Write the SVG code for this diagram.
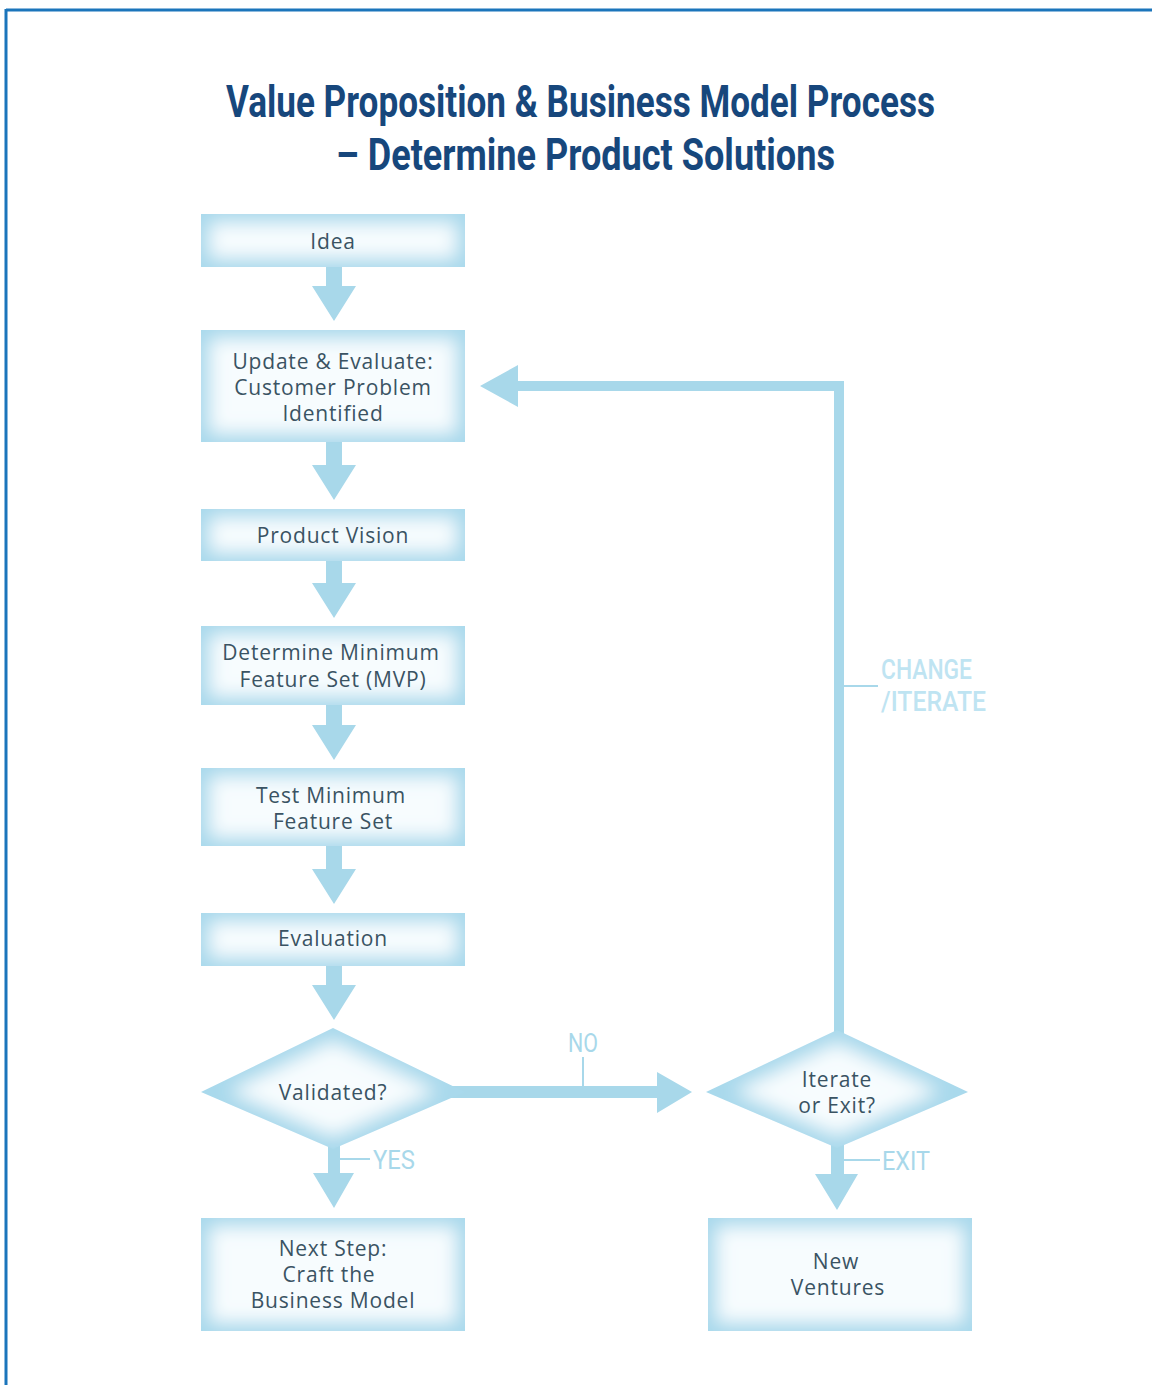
<svg xmlns="http://www.w3.org/2000/svg" width="1152" height="1385" viewBox="0 0 1152 1385">
<defs>
<filter id="inner" x="-5%" y="-10%" width="110%" height="120%">
<feMorphology in="SourceAlpha" operator="erode" radius="9" result="e"/>
<feGaussianBlur in="e" stdDeviation="9" result="b"/>
<feFlood flood-color="#f7fcfe"/>
<feComposite in2="b" operator="in" result="w"/>
<feComposite in="w" in2="SourceAlpha" operator="in" result="wc"/>
<feMerge><feMergeNode in="SourceGraphic"/><feMergeNode in="wc"/></feMerge>
</filter>
<style>
.box{fill:#a9d9ec;filter:url(#inner)}
.lbl{font-family:"Open Sans","Liberation Sans",sans-serif;font-size:21px;fill:#3a5363;text-anchor:middle;letter-spacing:0.8px}
.title{font-family:"Roboto","Liberation Sans",sans-serif;font-weight:bold;font-size:44px;fill:#17477c}
.arr{fill:#a8d8ea}
.tick{stroke:#a8d8ea;stroke-width:2;fill:none}
.elbl{font-family:"Roboto","Liberation Sans",sans-serif;font-size:26px;fill:#a8d8ea}
.clbl{font-family:"Roboto","Liberation Sans",sans-serif;font-size:27px;font-weight:500;fill:#bfe4f2}
</style>
</defs>
<rect x="0" y="0" width="1152" height="1385" fill="#ffffff"/>
<g id="frame">
<line x1="6" y1="10" x2="1152" y2="10" stroke="#1b75bb" stroke-width="3"/>
<line x1="6" y1="9" x2="6" y2="1385" stroke="#1b75bb" stroke-width="3"/>
</g>
<g id="title">
<text class="title" x="226" y="117" textLength="709" lengthAdjust="spacingAndGlyphs">Value Proposition &amp; Business Model Process</text>
<text class="title" x="336" y="170" textLength="499" lengthAdjust="spacingAndGlyphs">– Determine Product Solutions</text>
</g>
<g id="connectors">
<polygon class="arr" points="326,267 342,267 342,286 356,286 334,321 312,286 326,286"/>
<polygon class="arr" points="326,442 342,442 342,465 356,465 334,500 312,465 326,465"/>
<polygon class="arr" points="326,561 342,561 342,583 356,583 334,618 312,583 326,583"/>
<polygon class="arr" points="326,705 342,705 342,725 356,725 334,760 312,725 326,725"/>
<polygon class="arr" points="326,846 342,846 342,869 356,869 334,904 312,869 326,869"/>
<polygon class="arr" points="326,966 342,966 342,985 356,985 334,1020 312,985 326,985"/>
<polygon class="arr" points="328,1145 340,1145 340,1173 354,1173 334,1208 313,1173 328,1173"/>
<polygon class="arr" points="831,1145 844,1145 844,1174 858,1174 837,1210 815,1174 831,1174"/>
<polygon class="arr" points="450,1086 657,1086 657,1072 692,1092 657,1113 657,1098 450,1098"/>
<polygon class="arr" points="844,1034 834,1034 834,391 518,391 518,407 480,386 518,365 518,381 844,381"/>
<line class="tick" x1="340" y1="1159" x2="370" y2="1159"/>
<text class="elbl" x="373" y="1169" textLength="42" lengthAdjust="spacingAndGlyphs">YES</text>
<line class="tick" x1="844" y1="1160" x2="880" y2="1160"/>
<text class="elbl" x="882" y="1170" textLength="48" lengthAdjust="spacingAndGlyphs">EXIT</text>
<line class="tick" x1="583" y1="1057" x2="583" y2="1086"/>
<text class="elbl" x="568" y="1052" textLength="30" lengthAdjust="spacingAndGlyphs">NO</text>
<line class="tick" x1="844" y1="686" x2="878" y2="686"/>
<text class="clbl" x="881" y="679" textLength="91" lengthAdjust="spacingAndGlyphs">CHANGE</text>
<text class="clbl" x="881" y="711" textLength="105" lengthAdjust="spacingAndGlyphs">/ITERATE</text>
</g>
<g id="n-idea">
<rect class="box" x="201" y="214" width="264" height="53"/>
<text class="lbl" x="333" y="249">Idea</text>
</g>
<g id="n-update">
<rect class="box" x="201" y="330" width="264" height="112"/>
<text class="lbl" x="333" y="369">Update &amp; Evaluate:</text>
<text class="lbl" x="333" y="395">Customer Problem</text>
<text class="lbl" x="333" y="421">Identified</text>
</g>
<g id="n-vision">
<rect class="box" x="201" y="509" width="264" height="52"/>
<text class="lbl" x="333" y="543">Product Vision</text>
</g>
<g id="n-mvp">
<rect class="box" x="201" y="626" width="264" height="79"/>
<text class="lbl" x="331" y="660">Determine Minimum</text>
<text class="lbl" x="333" y="687">Feature Set (MVP)</text>
</g>
<g id="n-test">
<rect class="box" x="201" y="768" width="264" height="78"/>
<text class="lbl" x="331" y="803">Test Minimum</text>
<text class="lbl" x="333" y="829">Feature Set</text>
</g>
<g id="n-eval">
<rect class="box" x="201" y="913" width="264" height="53"/>
<text class="lbl" x="333" y="946">Evaluation</text>
</g>
<g id="n-validated">
<polygon class="box" points="333,1028 465,1092 333,1149 201,1092"/>
<text class="lbl" x="333" y="1100">Validated?</text>
</g>
<g id="n-iterate">
<polygon class="box" points="837,1030 968,1092 837,1148 706,1092"/>
<text class="lbl" x="837" y="1087">Iterate</text>
<text class="lbl" x="837" y="1113">or Exit?</text>
</g>
<g id="n-next">
<rect class="box" x="201" y="1218" width="264" height="113"/>
<text class="lbl" x="333" y="1256">Next Step:</text>
<text class="lbl" x="329" y="1282">Craft the</text>
<text class="lbl" x="333" y="1308">Business Model</text>
</g>
<g id="n-ventures">
<rect class="box" x="708" y="1218" width="264" height="113"/>
<text class="lbl" x="836" y="1269">New</text>
<text class="lbl" x="838" y="1295">Ventures</text>
</g>
</svg>
